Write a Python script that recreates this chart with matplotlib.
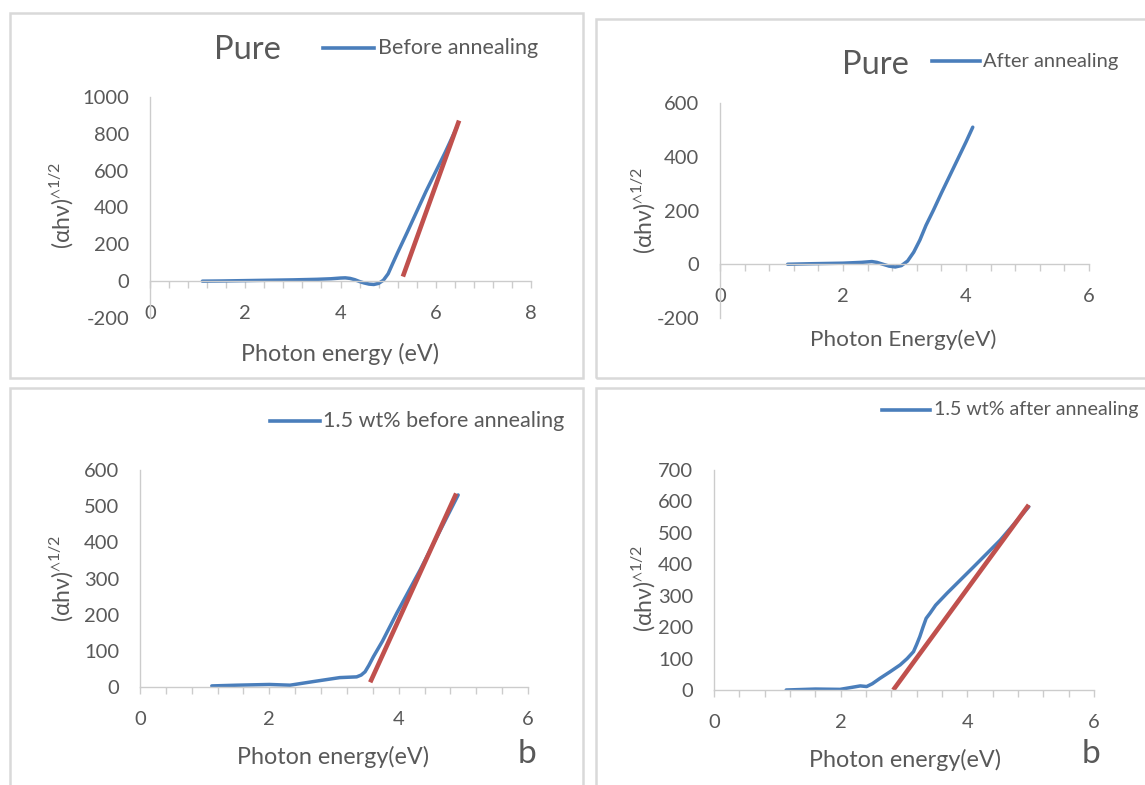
import matplotlib
matplotlib.use("Agg")
import matplotlib.pyplot as plt
from matplotlib.patches import Rectangle
from matplotlib.ticker import MultipleLocator
import numpy as np

plt.rcParams['font.family'] = ['Lato', 'DejaVu Sans']
plt.rcParams['mathtext.fontset'] = 'custom'
plt.rcParams['mathtext.rm'] = 'Lato'
plt.rcParams['mathtext.fallback'] = 'stixsans'
plt.rcParams['axes.unicode_minus'] = False

# ---------------- data ----------------
p1_x = [1.1, 1.5, 2.0, 2.5, 3.0, 3.5, 3.8, 4.0, 4.1, 4.2, 4.3, 4.4, 4.5, 4.6, 4.7, 4.8,
        4.9, 5.0, 5.1, 5.2, 5.3, 5.4, 5.6, 5.8, 6.0, 6.2, 6.45]
p1_y = [0, 1, 3, 5, 7, 10, 13, 17, 18, 15, 8, -2, -10, -16, -18, -12,
        5, 40, 98, 155, 210, 265, 378, 490, 595, 700, 840]
p1_fit_x = [5.31, 6.49]
p1_fit_y = [25, 872]

p2_x = [1.1, 1.5, 2.0, 2.3, 2.47, 2.55, 2.65, 2.75, 2.85, 2.95, 3.05, 3.15, 3.25, 3.35,
        3.47, 3.6, 3.8, 4.0, 4.11]
p2_y = [0, 2, 4, 7, 10, 7, 0, -7, -10, -5, 12, 45, 90, 145, 201, 265, 360, 455, 510]

p3_x = [1.11, 1.5, 2.0, 2.32, 2.68, 3.09, 3.35, 3.42, 3.48, 3.54, 3.61, 3.75, 3.97, 4.33, 4.92]
p3_y = [3, 5, 7, 5, 15, 26, 28, 33, 42, 60, 84, 127, 204, 323, 531]
p3_fit_x = [3.56, 4.89]
p3_fit_y = [13, 535]

p4_x = [1.14, 1.6, 1.99, 2.31, 2.41, 2.5, 2.62, 2.78, 2.94, 3.05, 3.15, 3.2, 3.25, 3.3,
        3.35, 3.41, 3.5, 3.68, 4.1, 4.52, 4.97]
p4_y = [0, 3, 2, 13, 11, 20, 37, 58, 80, 100, 122, 145, 170, 200,
        228, 244, 270, 308, 392, 477, 583]
p4_fit_x = [2.83, 4.97]
p4_fit_y = [0, 589]

legend_labels = ["Before annealing", "After annealing",
                 "1.5 wt% before annealing", "1.5 wt% after annealing"]
xlabels = ["Photon energy (eV)", "Photon Energy(eV)", "Photon energy(eV)", "Photon energy(eV)"]

W, H = 1145, 785
fig = plt.figure(figsize=(W / 100, H / 100), dpi=100)

BLUE = '#4a7ebb'
RED = '#c0504d'
BORDER = '#d9d9d9'
AXC = '#cccccc'
TXT = '#595959'


def fx(px):
    return px / W


def fy(py):
    return 1 - py / H


# panel borders
for (l, t, r, b) in [(10, 13, 583, 378), (596, 19, 1150, 378), (10, 388, 583, 790), (596, 388, 1150, 790)]:
    fig.patches.append(Rectangle((fx(l), fy(b)), (r - l) / W, (b - t) / H, transform=fig.transFigure,
                                 fill=False, edgecolor=BORDER, lw=1.8))


def make_ax(l, t, r, b, xmax, ymin, ymax, ystep):
    ax = fig.add_axes([fx(l), fy(b), (r - l) / W, (b - t) / H])
    ax.set_xlim(0, xmax)
    ax.set_ylim(ymin, ymax)
    for s in ['top', 'right']:
        ax.spines[s].set_visible(False)
    for s in ['left', 'bottom']:
        ax.spines[s].set_color(AXC)
        ax.spines[s].set_linewidth(1.0)
    ax.spines['bottom'].set_position(('data', 0))
    ax.xaxis.set_major_locator(MultipleLocator(2))
    ax.xaxis.set_minor_locator(MultipleLocator(0.4))
    ax.yaxis.set_major_locator(MultipleLocator(ystep))
    ax.tick_params(axis='x', which='both', direction='out', length=5, width=1, color=AXC)
    ax.tick_params(axis='x', which='major', pad=12, labelsize=14.5, labelcolor=TXT)
    ax.tick_params(axis='y', which='both', length=0, pad=15, labelsize=14.5, labelcolor=TXT)
    ax.patch.set_alpha(0)
    return ax


def ylab(x, y):
    fig.text(fx(x), fy(y), r'(αhν)$^{\wedge1/2}$', rotation=90, ha='center', va='center',
             fontsize=16.5, color=TXT)


def legend_line(x0, x1, y):
    fig.lines.append(plt.Line2D([fx(x0), fx(x1)], [fy(y), fy(y)], color=BLUE, lw=2.6,
                                transform=fig.transFigure))


LW_B = 2.5
LW_R = 3.3
kw_b = dict(color=BLUE, lw=LW_B, solid_capstyle='round', solid_joinstyle='round')
kw_r = dict(color=RED, lw=LW_R, solid_capstyle='butt')

# Panel 1
ax1 = make_ax(150, 97, 531, 318, 8, -200, 1000, 200)
ax1.plot(p1_x, p1_y, **kw_b)
ax1.plot(p1_fit_x, p1_fit_y, **kw_r)
fig.text(fx(247), fy(50), "Pure", fontsize=23.5, color=TXT, ha='center', va='center')
legend_line(323, 374, 48)
fig.text(fx(378), fy(48), legend_labels[0], fontsize=15.5, color=TXT, ha='left', va='center')
fig.text(fx(340), fy(354), xlabels[0], fontsize=16.8, color=TXT, ha='center', va='center')
ylab(61, 205)

# Panel 2
ax2 = make_ax(720, 103, 1089, 318, 6, -200, 600, 200)
ax2.plot(p2_x, p2_y, **kw_b)
fig.text(fx(875), fy(65), "Pure", fontsize=23.5, color=TXT, ha='center', va='center')
legend_line(932, 980, 61)
fig.text(fx(983), fy(61), legend_labels[1], fontsize=14.5, color=TXT, ha='left', va='center')
fig.text(fx(903), fy(340), xlabels[1], fontsize=16.2, color=TXT, ha='center', va='center')
ylab(643, 210)

# Panel 3
ax3 = make_ax(140, 470, 528, 687, 6, 0, 600, 100)
ax3.plot(p3_x, p3_y, **kw_b)
ax3.plot(p3_fit_x, p3_fit_y, **kw_r)
legend_line(270, 320, 421)
fig.text(fx(323), fy(421), legend_labels[2], fontsize=15.5, color=TXT, ha='left', va='center')
fig.text(fx(333), fy(757), xlabels[2], fontsize=16.8, color=TXT, ha='center', va='center')
fig.text(fx(527), fy(754), "b", fontsize=24, color=TXT, ha='center', va='center')
ylab(61, 578)

# Panel 4
ax4 = make_ax(714, 470, 1094, 690, 6, 0, 700, 100)
ax4.plot(p4_x, p4_y, **kw_b)
ax4.plot(p4_fit_x, p4_fit_y, **kw_r)
legend_line(882, 930, 410)
fig.text(fx(934), fy(410), legend_labels[3], fontsize=14.1, color=TXT, ha='left', va='center')
fig.text(fx(905), fy(760), xlabels[3], fontsize=16.8, color=TXT, ha='center', va='center')
fig.text(fx(1091), fy(754), "b", fontsize=24, color=TXT, ha='center', va='center')
ylab(643, 588)

fig.savefig("out.png", dpi=100)
